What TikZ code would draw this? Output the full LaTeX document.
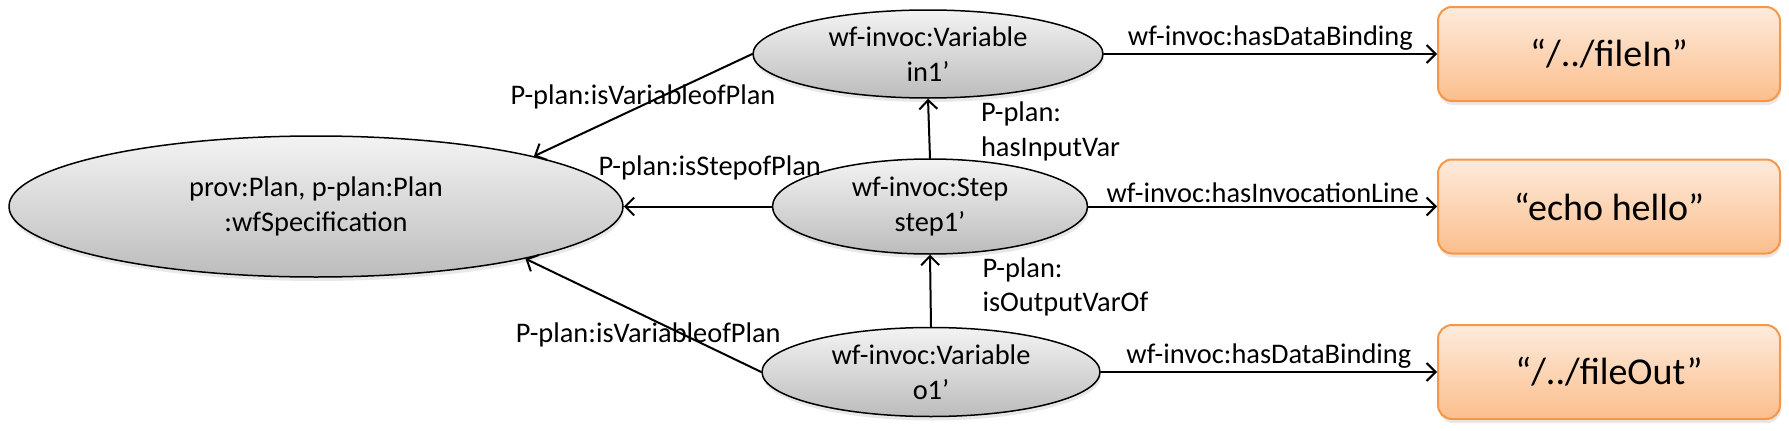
\documentclass[tikz,border=0pt]{standalone}
\usepackage{fontspec}
\setmainfont{Carlito}
\usetikzlibrary{shapes.geometric,arrows.meta,shadows}

\definecolor{ovaltop}{RGB}{243,243,243}
\definecolor{ovalbot}{RGB}{188,188,188}
\definecolor{littop}{RGB}{253,235,220}
\definecolor{litbot}{RGB}{251,190,140}
\definecolor{litline}{RGB}{247,150,70}

\tikzset{
  oval/.style={ellipse, draw, line width=1.5pt, inner sep=0pt, align=center,
    top color=ovaltop, bottom color=ovalbot,
    drop shadow={opacity=0.18, shadow xshift=1pt, shadow yshift=-4pt},
    font=\fontsize{28.4}{34.6}\selectfont},
  literal/.style={rectangle, rounded corners=14pt, draw=litline, line width=2pt,
    top color=littop, bottom color=litbot, minimum width=342pt, minimum height=94pt,
    drop shadow={opacity=0.18, shadow xshift=1pt, shadow yshift=-4pt},
    font=\fontsize{38}{46}\selectfont},
  rel/.style={line width=2pt, -{Straight Barb[length=9pt,width=18pt,line width=2pt]}},
  lbl/.style={inner sep=0pt, align=left, font=\fontsize{28.4}{34.6}\selectfont}
}

\begin{document}
\begin{tikzpicture}[x=1pt, y=-1pt, line cap=round, line join=round]

  %% ════ 椭圆（资源）════
  \node[oval, minimum width=614pt, minimum height=141pt] (plan) at (316,206.5) {prov:Plan, p-plan:Plan\\:wfSpecification};
  \node[oval, minimum width=350pt, minimum height=88pt] (in1) at (928,54) {wf-invoc:Variable\\in1’};
  \node[oval, minimum width=315pt, minimum height=95pt] (step) at (930,206.5) {wf-invoc:Step\\step1’};
  \node[oval, minimum width=338pt, minimum height=89pt] (out1) at (931,372) {wf-invoc:Variable\\o1’};

  %% ════ 圆角框（字面量）════
  \node[literal] (filein) at (1609,54) {“/../fileIn”};
  \node[literal] (echo) at (1609,206.5) {“echo hello”};
  \node[literal] (fileout) at (1609,372) {“/../fileOut”};

  %% ════ 指向 plan 的边 ════
  \draw[rel] (in1.west) -- (plan.13) node[lbl, midway, yshift=8pt] {P-plan:isVariableofPlan};
  \draw[rel] (step.west) -- (plan.east) node[lbl, midway, xshift=12pt, yshift=39pt] {P-plan:isStepofPlan};
  \draw[rel] (out1.west) -- (plan.-14) node[lbl, midway, xshift=5pt, yshift=-20pt] {P-plan:isVariableofPlan};

  %% ════ 竖直的边 ════
  \draw[rel] (step.north) -- (in1.south) node[lbl, midway, anchor=west, xshift=51pt, yshift=-3pt] {P-plan:\\hasInputVar};
  \draw[rel] (out1.north) -- (step.south) node[lbl, midway, anchor=west, xshift=51pt, yshift=4pt] {P-plan:\\isOutputVarOf};

  %% ════ 指向字面量的边 ════
  \draw[rel] (in1.east) -- (filein.west) node[lbl, midway, anchor=south, yshift=3pt] {wf-invoc:hasDataBinding};
  \draw[rel] (step.east) -- (echo.west) node[lbl, midway, anchor=south, yshift=3pt] {wf-invoc:hasInvocationLine};
  \draw[rel] (out1.east) -- (fileout.west) node[lbl, midway, anchor=south, yshift=3pt] {wf-invoc:hasDataBinding};

  % 钉死画布
  \pgfresetboundingbox
  \path[use as bounding box] (0,0) rectangle (1789,431);
\end{tikzpicture}
\end{document}
